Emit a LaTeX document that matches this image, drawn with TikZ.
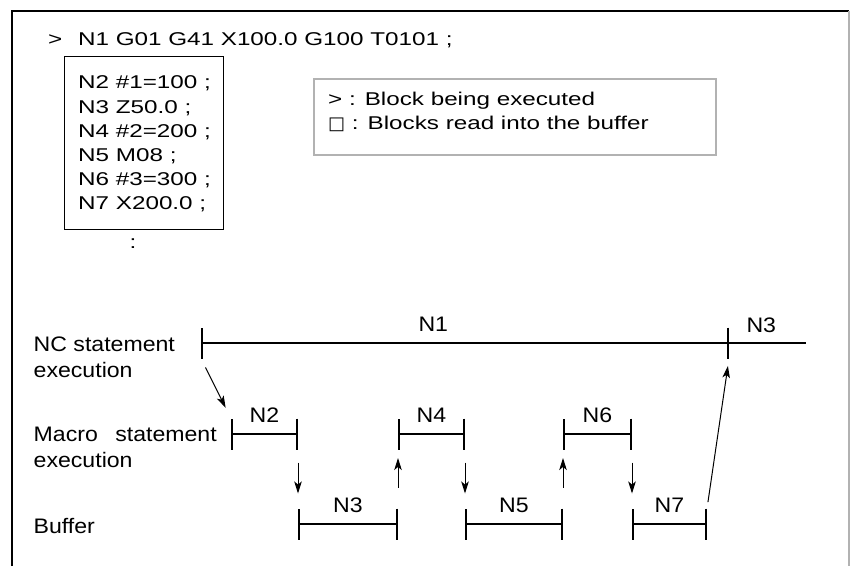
\documentclass[tikz,border=0pt]{standalone}
\usepackage{fontspec}
\setmainfont{Liberation Sans}[FakeStretch=1.1]
\newfontfamily\codefont{Liberation Sans}[FakeStretch=1.31]
\newfontfamily\symfont{DejaVu Sans}
\usetikzlibrary{positioning,arrows.meta}

\begin{document}
\begin{tikzpicture}[x=1pt,y=-1pt,
  code/.style={font={\codefont\fontsize{18.5}{24.2}\selectfont},inner sep=0pt},
  lbl/.style={font={\fontsize{21}{26}\selectfont}},
  rowlbl/.style={lbl,inner sep=0pt,anchor=north west,align=left},
  tline/.style={line width=2.2pt},
  tseg/.style={tline,{Bar[width=31pt]}-{Bar[width=31pt]}},
  flow/.style={-{Stealth[length=12pt,width=7.5pt,inset=3pt]},line width=1pt}]
\useasboundingbox (0,0) rectangle (850,566);
\draw[line width=1.3pt] (12,566) -- (12,11) -- (849,11);
\draw[gray!60,line width=1.3pt] (849,11) -- (849,566);

\node[code,anchor=base west] (nowline) at (48,45) {>\hspace{9pt} N1 G01 G41 X100.0 G100 T0101 ;};
\node[draw,line width=1.2pt,minimum width=159pt,minimum height=173pt,inner sep=0pt,anchor=north west] (bufbox) at (64,56) {};
\node[code,align=left,anchor=north west] (bufblocks) at (78,75.8) {N2 \#1=100 ;\\N3 Z50.0 ;\\N4 \#2=200 ;\\N5 M08 ;\\N6 \#3=300 ;\\N7 X200.0 ;};
\node[code,anchor=base] (more) at (133,248) {:};

\node[draw=gray!60,line width=1.5pt,minimum width=402pt,minimum height=76pt,inner sep=0pt,anchor=north west] (legbox) at (313,78) {};
\node[code,align=left,anchor=north west] (legtext) at (328,91.5) {> : Block being executed\\{\symfont\fontsize{18}{18}\selectfont □} : Blocks read into the buffer};

\node[rowlbl] (rowNC) at (33.5,337) {NC statement\\execution};
\node[rowlbl] (rowMacro) at (33.5,427) {Macro\hspace{11pt} statement\\execution};
\node[rowlbl] (rowBuf) at (33.5,518) {Buffer};

\coordinate (nc0) at (201,343);
\coordinate (nc1) at (729,343);
\coordinate (nc2) at (806,343);
\coordinate (m1) at (231,434);
\coordinate (m2) at (298,434);
\coordinate (m3) at (398,434);
\coordinate (m4) at (465,434);
\coordinate (m5) at (563,434);
\coordinate (m6) at (632,434);
\coordinate (b1) at (298,524);
\coordinate (b2) at (398,524);
\coordinate (b3) at (465,524);
\coordinate (b4) at (563,524);
\coordinate (b5) at (632,524);
\coordinate (b6) at (707,524);

\draw[tseg] (nc0) -- (nc1) node[lbl,pos=.44,above=7pt] (lN1) {N1};
\draw[tline] (nc1) -- (nc2);
\node[lbl,above right=7pt and 14pt of nc1] (lN3nc) {N3};

\draw[tseg] (m1) -- (m2) node[lbl,midway,above=7pt] (lN2) {N2};
\draw[tseg] (m3) -- (m4) node[lbl,midway,above=7pt] (lN4) {N4};
\draw[tseg] (m5) -- (m6) node[lbl,midway,above=7pt] (lN6) {N6};
\draw[tseg] (b1) -- (b2) node[lbl,midway,above=7pt] (lN3) {N3};
\draw[tseg] (b3) -- (b4) node[lbl,midway,above=7pt] (lN5) {N5};
\draw[tseg] (b5) -- (b6) node[lbl,midway,above=7pt] (lN7) {N7};

\draw[flow,shorten <=10pt,shorten >=12pt] ([yshift=-15.5pt]nc0) -- ([yshift=15.5pt]m1);
\draw[flow,shorten <=13pt,shorten >=15pt] ([yshift=-15.5pt]m2) -- ([yshift=15.5pt]b1);
\draw[flow,shorten <=21pt,shorten >=8.5pt] ([yshift=15.5pt]b2) -- ([yshift=-15.5pt]m3);
\draw[flow,shorten <=13pt,shorten >=15pt] ([yshift=-15.5pt]m4) -- ([yshift=15.5pt]b3);
\draw[flow,shorten <=21pt,shorten >=8.5pt] ([yshift=15.5pt]b4) -- ([yshift=-15.5pt]m5);
\draw[flow,shorten <=13pt,shorten >=15pt] ([yshift=-15.5pt]m6) -- ([yshift=15.5pt]b5);
\draw[flow,shorten <=6.5pt,shorten >=7.5pt] ([yshift=15.5pt]b6) -- ([yshift=-15.5pt]nc1);
\end{tikzpicture}
\end{document}
